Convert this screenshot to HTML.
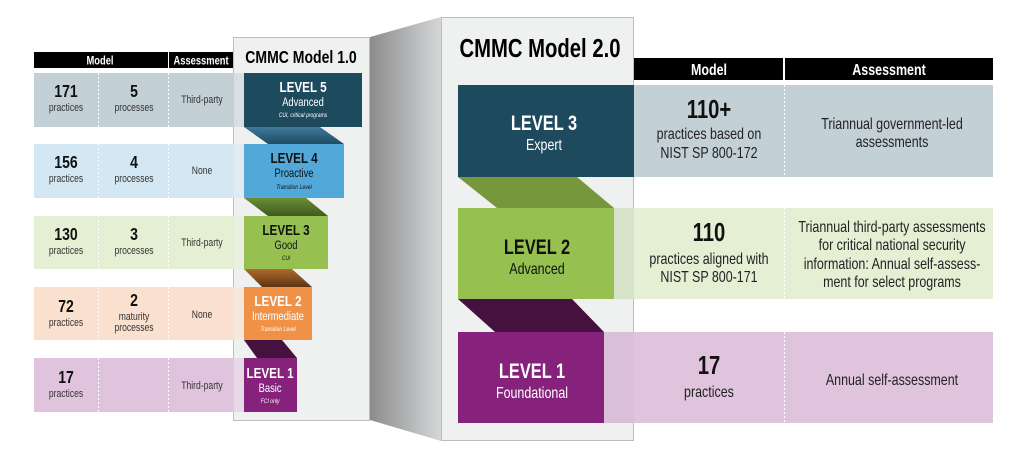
<!DOCTYPE html>
<html><head><meta charset="utf-8"><style>
html,body{margin:0;padding:0;background:#fff;width:1024px;height:471px;overflow:hidden}
svg{display:block}
text{font-family:"Liberation Sans Narrow","Liberation Sans",sans-serif;text-anchor:middle;transform-box:fill-box;transform-origin:center;transform:scaleX(0.78)}
.b{font-weight:bold}
</style></head><body>
<svg width="1024" height="471" viewBox="0 0 1024 471">
<defs>
<linearGradient id="g3d" x1="0" x2="1" y1="0" y2="0"><stop offset="0" stop-color="#8c8c8c"/><stop offset="1" stop-color="#d4d6d8"/></linearGradient>
<linearGradient id="r5" x1="0" x2="0" y1="0" y2="1"><stop offset="0" stop-color="#3d7a9a"/><stop offset="1" stop-color="#1f4c63"/></linearGradient>
<linearGradient id="r4" x1="0" x2="0" y1="0" y2="1"><stop offset="0" stop-color="#6b8e34"/><stop offset="1" stop-color="#3f5a1e"/></linearGradient>
<linearGradient id="r3" x1="0" x2="0" y1="0" y2="1"><stop offset="0" stop-color="#b06a2c"/><stop offset="1" stop-color="#5e3414"/></linearGradient>
</defs>
<polygon points="370,37 441,17 441,441 370,420" fill="url(#g3d)"/>
<rect x="233.5" y="37.5" width="136" height="383" fill="#eff1f1" stroke="#bcbfc1"/>
<text x="301" y="63" class="b" font-size="18">CMMC Model 1.0</text>
<rect x="34" y="52" width="134" height="16" fill="#000"/>
<rect x="169" y="52" width="64" height="16" fill="#000"/>
<text x="100" y="64.5" class="b" font-size="12" fill="#fff">Model</text>
<text x="201" y="64.5" class="b" font-size="12" fill="#fff">Assessment</text>
<rect x="34" y="73" width="210" height="54" fill="#c3d0d6"/>
<rect x="34" y="144" width="210" height="54" fill="#d3e8f3"/>
<rect x="34" y="216" width="210" height="53" fill="#e4efd4"/>
<rect x="34" y="287" width="210" height="53" fill="#fae0cf"/>
<rect x="34" y="358" width="210" height="54" fill="#e0c4de"/>
<g stroke="#fff" stroke-dasharray="2,2" stroke-width="1">
<line x1="98.5" y1="73" x2="98.5" y2="127"/><line x1="168.5" y1="73" x2="168.5" y2="127"/>
<line x1="98.5" y1="144" x2="98.5" y2="198"/><line x1="168.5" y1="144" x2="168.5" y2="198"/>
<line x1="98.5" y1="216" x2="98.5" y2="269"/><line x1="168.5" y1="216" x2="168.5" y2="269"/>
<line x1="98.5" y1="287" x2="98.5" y2="340"/><line x1="168.5" y1="287" x2="168.5" y2="340"/>
<line x1="98.5" y1="358" x2="98.5" y2="412"/><line x1="168.5" y1="358" x2="168.5" y2="412"/>
</g>
<g fill="#111">
<text x="66" y="97" class="b" font-size="18">171</text><text x="66" y="111" font-size="11" fill="#333">practices</text>
<text x="134" y="97" class="b" font-size="18">5</text><text x="134" y="111" font-size="11" fill="#333">processes</text>
<text x="202" y="103" font-size="11" fill="#333">Third-party</text>
<text x="66" y="168" class="b" font-size="18">156</text><text x="66" y="182" font-size="11" fill="#333">practices</text>
<text x="134" y="168" class="b" font-size="18">4</text><text x="134" y="182" font-size="11" fill="#333">processes</text>
<text x="202" y="174" font-size="11" fill="#333">None</text>
<text x="66" y="240" class="b" font-size="18">130</text><text x="66" y="254" font-size="11" fill="#333">practices</text>
<text x="134" y="240" class="b" font-size="18">3</text><text x="134" y="254" font-size="11" fill="#333">processes</text>
<text x="202" y="246" font-size="11" fill="#333">Third-party</text>
<text x="66" y="312" class="b" font-size="18">72</text><text x="66" y="326" font-size="11" fill="#333">practices</text>
<text x="134" y="306" class="b" font-size="18">2</text><text x="134" y="320" font-size="11" fill="#333">maturity</text><text x="134" y="331" font-size="11" fill="#333">processes</text>
<text x="202" y="318" font-size="11" fill="#333">None</text>
<text x="66" y="383" class="b" font-size="18">17</text><text x="66" y="397" font-size="11" fill="#333">practices</text>
<text x="202" y="389" font-size="11" fill="#333">Third-party</text>
</g>
<rect x="234" y="73" width="10" height="340" fill="#eff1f1" opacity="0.45"/>
<polygon points="244,127 320,127 344,144 268,144" fill="url(#r5)"/>
<polygon points="244,198 306,198 328,216 268,216" fill="url(#r4)"/>
<polygon points="244,269 292,269 312,287 262,287" fill="url(#r3)"/>
<polygon points="244,340 282,340 297,358 257,358" fill="#45123f"/>
<rect x="244" y="73" width="118" height="54" fill="#1e4a5e"/>
<rect x="244" y="144" width="100" height="54" fill="#52a8d8"/>
<rect x="244" y="216" width="84" height="53" fill="#96c050"/>
<rect x="244" y="287" width="68" height="53" fill="#ef9147"/>
<rect x="244" y="358" width="53" height="54" fill="#86217c"/>
<g fill="#fff">
<text x="303" y="92" class="b" font-size="15">LEVEL 5</text><text x="303" y="106" font-size="12">Advanced</text><text x="303" y="117" font-size="6.5" font-style="italic">CUI, critical programs</text>
</g>
<g fill="#111">
<text x="294" y="163" class="b" font-size="15">LEVEL 4</text><text x="294" y="177" font-size="12">Proactive</text><text x="294" y="189" font-size="6.5" font-style="italic">Transition Level</text>
<text x="286" y="235" class="b" font-size="15">LEVEL 3</text><text x="286" y="249" font-size="12">Good</text><text x="286" y="260" font-size="6.5" font-style="italic">CUI</text>
</g>
<g fill="#fff">
<text x="278" y="306" class="b" font-size="15">LEVEL 2</text><text x="278" y="320" font-size="12">Intermediate</text><text x="278" y="331" font-size="6.5" font-style="italic">Transition Level</text>
<text x="270" y="378" class="b" font-size="15">LEVEL 1</text><text x="270" y="392" font-size="12">Basic</text><text x="270" y="403" font-size="6.5" font-style="italic">FCI only</text>
</g>

<rect x="441.5" y="17.5" width="192" height="423" fill="#eff1f1" stroke="#bcbfc1"/>
<text x="540" y="57" class="b" font-size="26">CMMC Model 2.0</text>
<rect x="634" y="58" width="149" height="22" fill="#000"/>
<rect x="785" y="58" width="208" height="22" fill="#000"/>
<text x="709" y="75" class="b" font-size="16" fill="#fff">Model</text>
<text x="889" y="75" class="b" font-size="16" fill="#fff">Assessment</text>
<rect x="634" y="85" width="359" height="92" fill="#c3d0d6"/>
<rect x="614" y="208" width="379" height="91" fill="#e4efd4"/>
<rect x="604" y="332" width="389" height="91" fill="#e0c4de"/>
<rect x="614" y="208" width="20" height="91" fill="#cfd9c4" opacity="0.6"/>
<rect x="604" y="332" width="30" height="91" fill="#d4bdd2" opacity="0.6"/>
<g stroke="#fff" stroke-dasharray="2,2">
<line x1="784.5" y1="85" x2="784.5" y2="177"/><line x1="784.5" y1="208" x2="784.5" y2="299"/><line x1="784.5" y1="332" x2="784.5" y2="423"/>
</g>
<polygon points="458,177 577,177 614,208 497,208" fill="#76973c"/>
<polygon points="458,299 572,299 604,332 495,332" fill="#45123f"/>
<rect x="458" y="85" width="176" height="92" fill="#1e4a5e"/>
<rect x="458" y="208" width="156" height="91" fill="#96c050"/>
<rect x="458" y="332" width="146" height="91" fill="#86217c"/>
<text x="544" y="130" class="b" font-size="21" fill="#fff">LEVEL 3</text>
<text x="544" y="150" font-size="16" fill="#fff">Expert</text>
<text x="537" y="254" class="b" font-size="21" fill="#111">LEVEL 2</text>
<text x="537" y="274" font-size="16" fill="#111">Advanced</text>
<text x="532" y="378" class="b" font-size="21" fill="#fff">LEVEL 1</text>
<text x="532" y="398" font-size="16" fill="#fff">Foundational</text>
<g fill="#111">
<text x="709" y="118" class="b" font-size="26">110+</text>
<text x="709" y="139" font-size="16" fill="#222">practices based on</text>
<text x="709" y="158" font-size="16" fill="#222">NIST SP 800-172</text>
<text x="709" y="241" class="b" font-size="26">110</text>
<text x="709" y="264" font-size="16" fill="#222">practices aligned with</text>
<text x="709" y="282" font-size="16" fill="#222">NIST SP 800-171</text>
<text x="709" y="374" class="b" font-size="26">17</text>
<text x="709" y="397" font-size="16" fill="#222">practices</text>
<g fill="#222" font-size="16">
<text x="892" y="129">Triannual government-led</text>
<text x="892" y="147">assessments</text>
<text x="892" y="232">Triannual third-party assessments</text>
<text x="892" y="250">for critical national security</text>
<text x="892" y="269">information: Annual self-assess-</text>
<text x="892" y="287">ment for select programs</text>
<text x="892" y="385">Annual self-assessment</text>
</g>
</g>
</svg>
</body></html>
